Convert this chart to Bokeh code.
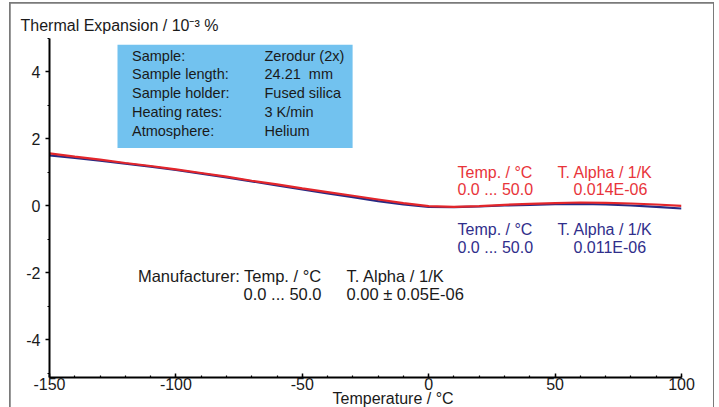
from bokeh.plotting import figure
from bokeh.models import Range1d, SingleIntervalTicker, BoxAnnotation, Label, Title, CustomJSTickFormatter
from bokeh.embed import file_html
from bokeh.resources import INLINE

# ---- data ----
temperature = [-150, -140, -130, -120, -110, -100, -90, -80, -70, -60, -50, -40, -30,
               -20, -10, 0, 10, 20, 30, 40, 50, 60, 70, 80, 90, 100]
red_expansion = [1.57, 1.47, 1.38, 1.28, 1.19, 1.09, 0.98, 0.87, 0.75, 0.64, 0.52, 0.41, 0.30,
                 0.19, 0.08, -0.01, -0.03, -0.01, 0.03, 0.06, 0.08, 0.10, 0.09, 0.07, 0.04, 0.00]
blue_expansion = [1.51, 1.43, 1.35, 1.26, 1.17, 1.07, 0.96, 0.85, 0.73, 0.61, 0.49, 0.37, 0.26,
                  0.14, 0.04, -0.03, -0.04, -0.02, 0.01, 0.03, 0.05, 0.06, 0.04, 0.01, -0.03, -0.08]

info_keys = ["Sample:", "Sample length:", "Sample holder:", "Heating rates:", "Atmosphere:"]
info_vals = ["Zerodur (2x)", "24.21\u00a0\u00a0mm", "Fused silica", "3 K/min", "Helium"]

red_legend = ["Temp. / °C", "0.0 ... 50.0", "T. Alpha / 1/K", "0.014E-06"]
blue_legend = ["Temp. / °C", "0.0 ... 50.0", "T. Alpha / 1/K", "0.011E-06"]
manuf = ["Manufacturer: Temp. / °C", "0.0 ... 50.0", "T. Alpha / 1/K", "0.00 ± 0.05E-06"]

y_title = "Thermal Expansion / 10⁻³ %"
x_title = "Temperature / °C"

FONT = "Liberation Sans"
RED_LINE = "#E3262B"
BLUE_LINE = "#272A83"
RED_TXT = "#E8343A"
BLUE_TXT = "#302E8B"
TXT = "#1a1a1a"

p = figure(width=703, height=404, output_backend="svg", toolbar_location=None,
           x_range=Range1d(-150, 100), y_range=Range1d(-5.13, 5),
           min_border_left=39, min_border_right=32, min_border_top=35, min_border_bottom=30)
p.margin = (3, 6, 0, 10)
p.styles = {"outline": "2px solid #7a7a7a", "outline-offset": "-1px"}
p.outline_line_color = None
p.background_fill_color = "white"
p.border_fill_color = "white"
p.grid.visible = False

# title (y quantity) at top-left
p.title.text = y_title
p.title.align = "left"
p.title.offset = -29
p.title.standoff = 9
p.title.text_font = FONT
p.title.text_font_size = "16px"
p.title.text_font_style = "normal"
p.title.text_color = TXT

# axes
p.xaxis.ticker = SingleIntervalTicker(interval=50, num_minor_ticks=5)
p.yaxis.ticker = SingleIntervalTicker(interval=2, num_minor_ticks=2)
fmt = CustomJSTickFormatter(code="return String(tick);")
for ax in (p.xaxis, p.yaxis):
    ax.formatter = fmt
    ax.axis_line_color = "black"
    ax.axis_line_width = 2
    ax.major_tick_line_color = "black"
    ax.minor_tick_line_color = "black"
    ax.major_tick_line_width = 1.5
    ax.minor_tick_line_width = 1.2
    ax.major_label_text_font = FONT
    ax.major_label_text_font_size = "16px"
    ax.major_label_text_color = TXT
p.xaxis.major_tick_in = 4
p.xaxis.major_tick_out = 0
p.xaxis.minor_tick_in = 2
p.xaxis.minor_tick_out = 0
p.xaxis.major_label_standoff = 0
p.yaxis.major_tick_in = 0
p.yaxis.major_tick_out = 4
p.yaxis.minor_tick_in = 0
p.yaxis.minor_tick_out = 2
p.yaxis.major_label_standoff = 5

# x quantity label, below the axis
p.add_layout(Title(text=x_title, align="left", offset=283, standoff=-10,
                   text_font=FONT, text_font_size="16px", text_font_style="normal",
                   text_color=TXT), "below")

# info box
p.add_layout(BoxAnnotation(left=-123.1, right=-30.1, top=4.81, bottom=1.73,
                           fill_color="#72C2EF", fill_alpha=1.0, line_color=None, level="underlay"))

# curves
p.line(temperature, blue_expansion, line_color=BLUE_LINE, line_width=2.2)
p.line(temperature, red_expansion, line_color=RED_LINE, line_width=2.2)


def lab(text, sx, sy, color=TXT, size="16px", align="left"):
    p.add_layout(Label(x=sx, y=sy, x_units="screen", y_units="screen", text=text,
                       text_font=FONT, text_font_size=size, text_color=color,
                       text_align=align, text_baseline="middle"))

# frame: left=49, bottom=377 in page pixels
FL, FB = 49, 377

rows_y = [55.5, 73.5, 92.5, 111, 130]
for k, v, yy in zip(info_keys, info_vals, rows_y):
    lab(k, 131.5 - FL, FB - yy, size="14.5px")
    lab(v, 264 - FL, FB - yy, size="14.5px")

# red legend
lab(red_legend[0], 457 - FL, FB - 171.7, RED_TXT)
lab(red_legend[1], 457 - FL, FB - 189.3, RED_TXT)
lab(red_legend[2], 557 - FL, FB - 171.7, RED_TXT)
lab(red_legend[3], 573 - FL, FB - 189.3, RED_TXT)
# blue legend
lab(blue_legend[0], 457 - FL, FB - 229.3, BLUE_TXT)
lab(blue_legend[1], 457 - FL, FB - 246.7, BLUE_TXT)
lab(blue_legend[2], 557 - FL, FB - 229.3, BLUE_TXT)
lab(blue_legend[3], 573 - FL, FB - 246.7, BLUE_TXT)
# manufacturer
lab(manuf[0], 321 - FL, FB - 275.5, size="16.5px", align="right")
lab(manuf[1], 321 - FL, FB - 293.5, size="16.5px", align="right")
lab(manuf[2], 346 - FL, FB - 275.5, size="16.5px")
lab(manuf[3], 346 - FL, FB - 293.5, size="16.5px")

open("out.html", "w").write(file_html(p, INLINE))
